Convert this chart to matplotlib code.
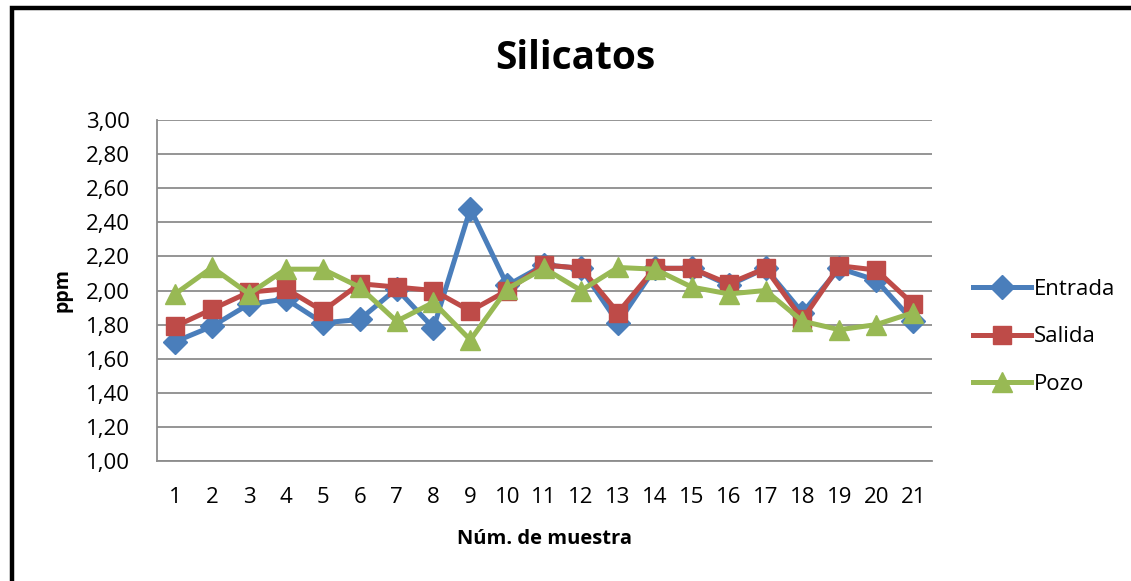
import matplotlib
matplotlib.use("Agg")
import matplotlib.pyplot as plt
from matplotlib.patches import Rectangle
from matplotlib.ticker import FuncFormatter, MultipleLocator

muestras = list(range(1, 22))
entrada = [1.70, 1.79, 1.92, 1.95, 1.81, 1.83, 2.01, 1.78, 2.48, 2.03, 2.15,
           2.13, 1.81, 2.13, 2.13, 2.03, 2.13, 1.87, 2.13, 2.06, 1.82]
salida = [1.79, 1.89, 1.99, 2.01, 1.88, 2.04, 2.02, 2.00, 1.88, 2.00, 2.15,
          2.13, 1.87, 2.13, 2.13, 2.04, 2.13, 1.83, 2.145, 2.12, 1.92]
pozo = [1.98, 2.135, 1.98, 2.125, 2.125, 2.02, 1.82, 1.93, 1.71, 2.01, 2.13,
        2.00, 2.135, 2.125, 2.02, 1.98, 2.00, 1.82, 1.77, 1.80, 1.87]

font = "Open Sans"
plt.rcParams['font.family'] = [font, 'DejaVu Sans']

fig = plt.figure(figsize=(11.31, 5.81), dpi=100)
ax = fig.add_axes([0.1386, 0.2065, 0.6851, 0.587])

lw = 3.6
ax.plot(muestras, entrada, color='#4A7EBB', lw=lw, marker='D', ms=12,
        label='Entrada', zorder=3)
ax.plot(muestras, salida, color='#BE4B48', lw=lw, marker='s', ms=12.5,
        label='Salida', zorder=4)
ax.plot(muestras, pozo, color='#98B954', lw=lw, marker='^', ms=14.5,
        label='Pozo', zorder=5)

ax.set_ylim(1.0, 3.0)
ax.set_xlim(0.5, 21.5)
ax.yaxis.set_major_locator(MultipleLocator(0.2))
ax.yaxis.set_major_formatter(FuncFormatter(lambda v, p: f"{v:.2f}".replace('.', ',')))
ax.set_xticks(muestras)
ax.grid(axis='y', color='#8C8C8C', lw=1.3)
ax.set_axisbelow(True)
for s in ['top', 'right']:
    ax.spines[s].set_visible(False)
ax.spines['left'].set_color('#8C8C8C')
ax.spines['bottom'].set_color('#8C8C8C')
ax.spines['left'].set_linewidth(1.3)
ax.spines['bottom'].set_linewidth(1.3)
ax.tick_params(axis='y', length=0, pad=19, labelsize=16)
ax.tick_params(axis='x', length=0, pad=19, labelsize=16)

ax.set_ylabel('ppm', fontsize=14, fontweight='bold', labelpad=10)
ax.set_xlabel('Núm. de muestra', fontsize=14.5, fontweight='bold', labelpad=15)
fig.text(0.509, 0.900, 'Silicatos', fontsize=28, fontweight='bold',
         ha='center', va='center')

leg = ax.legend(loc='center left', bbox_to_anchor=(0.843, 0.42),
                bbox_transform=fig.transFigure, frameon=False, fontsize=16,
                handlelength=2.6, handletextpad=0.1, labelspacing=1.2)

fig.patches.append(Rectangle((0.0105, -0.05), 1.2, 1.036, transform=fig.transFigure,
                             fill=False, edgecolor='black', lw=3.2))

fig.savefig('out.png', dpi=100)
